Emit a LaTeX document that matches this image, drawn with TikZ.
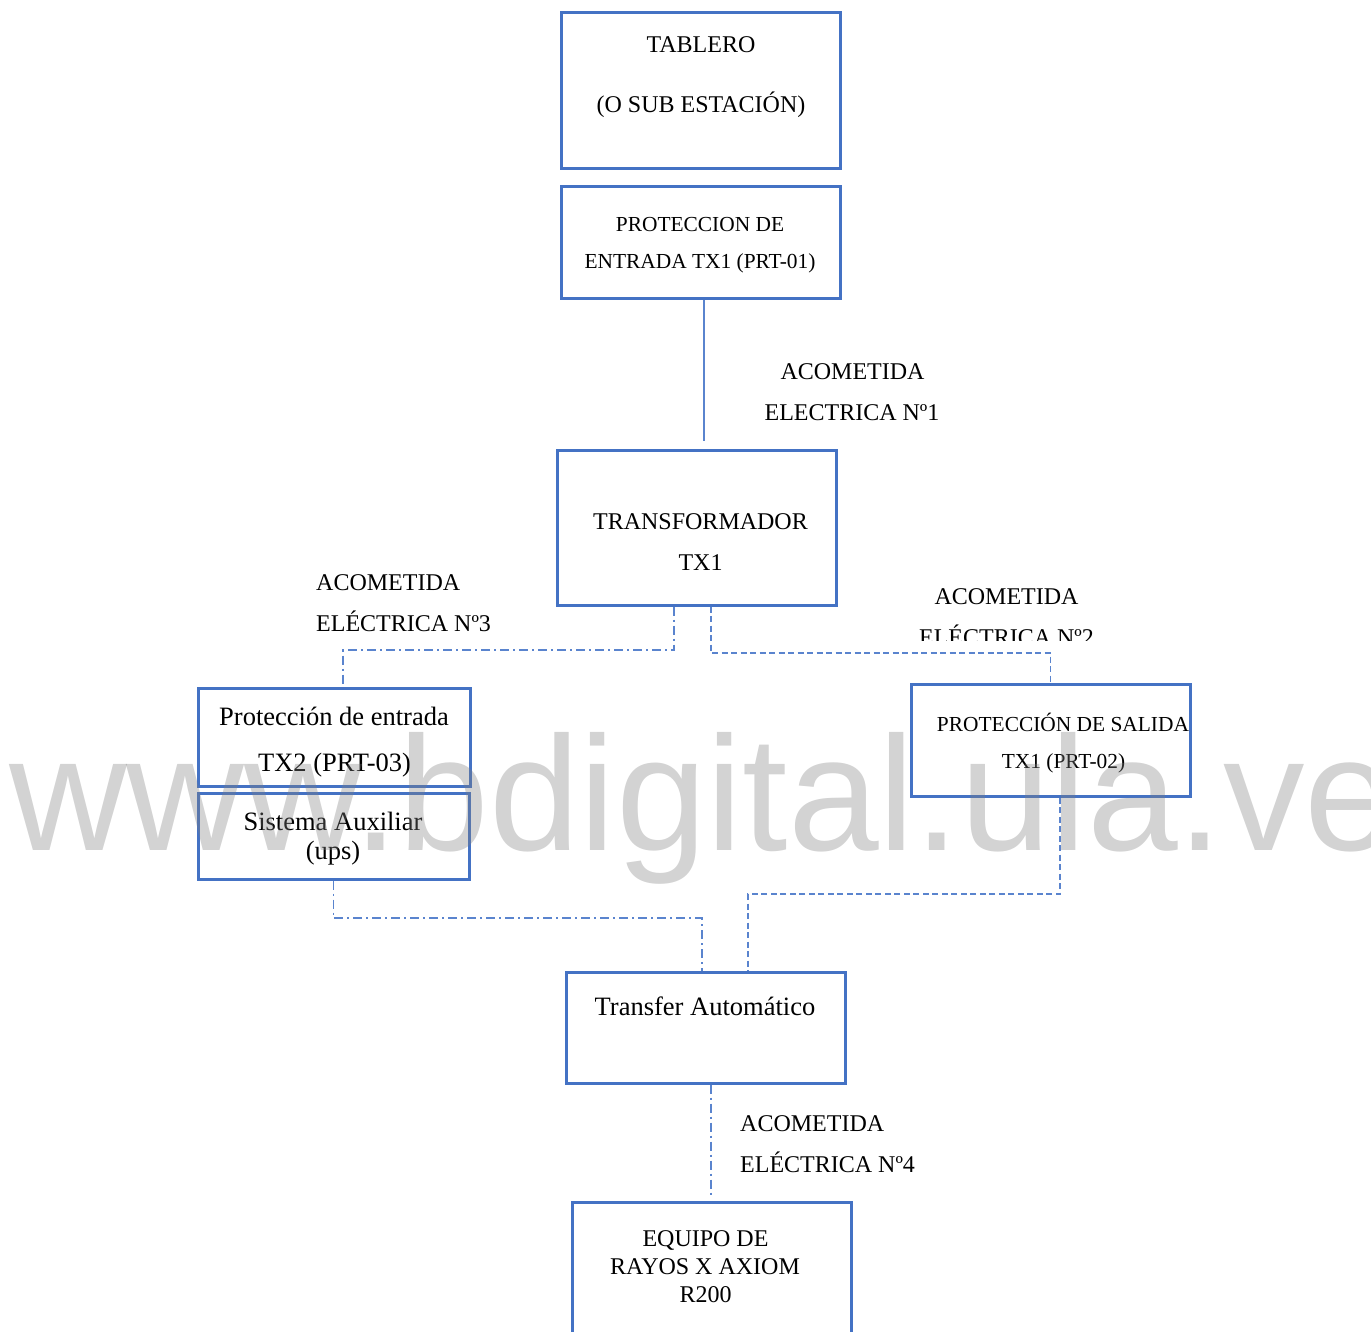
\documentclass[tikz,border=0pt]{standalone}
\usepackage{fontspec}
\setmainfont{Liberation Serif}
\newfontfamily\wmfont{Liberation Sans}
\usetikzlibrary{calc}
\definecolor{boxblue}{HTML}{4472C4}
\definecolor{wireblue}{HTML}{5A84CE}

\begin{document}
\begin{tikzpicture}[x=1pt,y=-1pt,
  block/.style={draw=boxblue, line width=3pt, inner sep=0pt, rectangle},
  wire/.style={draw=wireblue, line width=1.3pt},
  dashdot/.style={dash pattern=on 9pt off 4pt on 2pt off 4pt},
  dashline/.style={dash pattern=on 6pt off 3.5pt},
  lblA/.style={inner sep=0pt, anchor=base, font=\fontsize{24}{28}\selectfont},
  lblB/.style={inner sep=0pt, anchor=base, font=\fontsize{21.4}{25}\selectfont},
  lblC/.style={inner sep=0pt, anchor=base, font=\fontsize{26.5}{30}\selectfont},
  wm/.style={inner sep=0pt, anchor=base west, font=\wmfont\fontsize{163}{163}\selectfont,
    text=black!50, opacity=0.35}
]
\useasboundingbox (0,0) rectangle (1371,1332);

% boxes
\node[block, minimum width=279pt, minimum height=156pt] (tab)    at (700.5,91)    {};
\node[block, minimum width=279pt, minimum height=112pt] (prt01)  at (700.5,243)   {};
\node[block, minimum width=279pt, minimum height=155pt] (tx1)    at (696.5,527.5) {};
\node[block, minimum width=272pt, minimum height=98pt]  (prt03)  at (334,737)     {};
\node[block, minimum width=271pt, minimum height=86pt]  (ups)    at (333.5,836)   {};
\node[block, minimum width=279pt, minimum height=112pt] (prt02)  at (1050.5,740)  {};
\node[block, minimum width=279pt, minimum height=111pt] (ats)    at (705.5,1027.5){};
\node[block, minimum width=279pt, minimum height=150pt] (xray)   at (711.5,1277)  {};

% box texts
\node[lblA] (tabA) at (701,53)  {TABLERO};
\node[lblA] (tabB) at (701,113) {(O SUB ESTACIÓN)};
\node[lblB] (p1A) at (700,232) {PROTECCION DE};
\node[lblB] (p1B) at (700,269) {ENTRADA TX1 (PRT-01)};
\node[lblA] (txA) at (700.5,529) {TRANSFORMADOR};
\node[lblA] (txB) at (700.5,570) {TX1};
\node[lblC] (p3A) at (334,725) {Protección de entrada};
\node[lblC] (p3B) at (334.5,771) {TX2 (PRT-03)};
\node[lblC] (upsA) at (333,830) {Sistema Auxiliar};
\node[lblC] (upsB) at (333,859) {(ups)};
\node[lblB] (p2A) at (1063,731) {PROTECCIÓN DE SALIDA};
\node[lblB] (p2B) at (1063.5,768) {TX1 (PRT-02)};
\node[lblC] (atsA) at (705,1015) {Transfer Automático};
\node[lblA] (xrA) at (705.5,1246) {EQUIPO DE};
\node[lblA] (xrB) at (705,1274) {RAYOS X AXIOM};
\node[lblA] (xrC) at (705.5,1302) {R200};

% feeder labels
\node[lblA] (ac1A) at (852.5,379) {ACOMETIDA};
\node[lblA] (ac1B) at (852,420) {ELECTRICA Nº1};
\node[lblA, anchor=base west] (ac3A) at (316,590) {ACOMETIDA};
\node[lblA, anchor=base west] (ac3B) at (316,631) {ELÉCTRICA Nº3};
\node[lblA] (ac2A) at (1006.5,604) {ACOMETIDA};
\begin{scope}
  \clip (900,610) rectangle (1120,640.5);
  \node[lblA] (ac2B) at (1006.5,645) {ELÉCTRICA Nº2};
\end{scope}
\node[lblA, anchor=base west] (ac4A) at (740,1131) {ACOMETIDA};
\node[lblA, anchor=base west] (ac4B) at (740,1172) {ELÉCTRICA Nº4};

% connectors
\coordinate (f1) at (704,441);
\draw[wire] (prt01.south -| f1) -- (f1);

\coordinate (c3a) at (674,650);
\coordinate (c3b) at (343,650);
\draw[wire, dashdot] (tx1.south -| c3a) -- (c3a) -- (c3b) -- (prt03.north -| c3b);

\coordinate (c2a) at (711,653);
\draw[wire, dashline] (tx1.south -| c2a) -- (c2a) -| (prt02.north);

\coordinate (c5) at (702,918);
\draw[wire, dashdot] (ups.south) |- (c5) -- (ats.north -| c5);

\coordinate (c6a) at (1060,894);
\coordinate (c6b) at (748,894);
\draw[wire, dashline] (prt02.south -| c6a) -- (c6a) -- (c6b) -- (ats.north -| c6b);

\coordinate (f4) at (711,1197);
\draw[wire, dashdot] (ats.south -| f4) -- (f4);

% overlay
\node[wm] (wmark) at (9,850) {www.bdigital.ula.ve};
\end{tikzpicture}
\end{document}
